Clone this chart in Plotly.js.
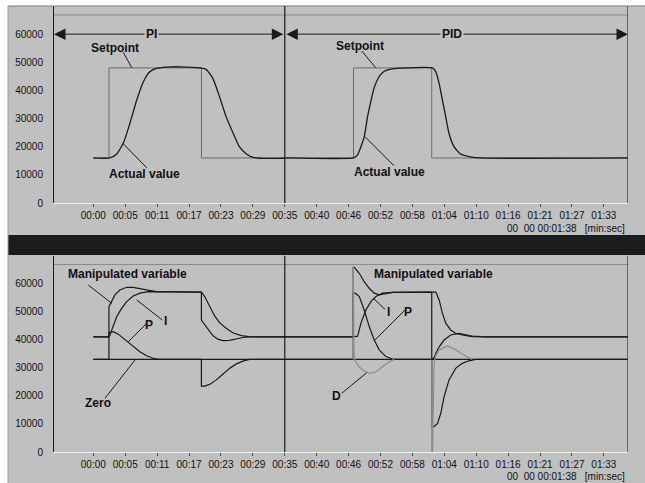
<!DOCTYPE html>
<html><head><meta charset="utf-8">
<script src="https://cdn.plot.ly/plotly-3.0.1.min.js"></script>
<style>html,body{margin:0;padding:0;background:#fff;}#chart{width:645px;height:483px;}</style>
</head><body><div id="chart"></div>
<script>
// ---- axis ticks ----
const tickSeconds = [0, 5.81, 11.63, 17.44, 23.25, 29.06, 34.88, 40.69, 46.5, 52.31, 58.13, 63.94, 69.75, 75.56, 81.38, 87.19, 93];
const tickLabels = ["00:00","00:05","00:11","00:17","00:23","00:29","00:35","00:40","00:46","00:52","00:58","01:04","01:10","01:16","01:21","01:27","01:33"];
const yTickValues = [0, 10000, 20000, 30000, 40000, 50000, 60000];
const yTickLabels = ["0","10000","20000","30000","40000","50000","60000"];

// ---- top chart: setpoint / actual value ----
const setpointTime  = [0, 2.85, 2.85, 19.7, 19.7, 47.4, 47.4, 61.65, 61.65, 97.4];
const setpointValue = [16000, 16000, 48000, 48000, 16000, 16000, 48000, 48000, 16000, 16000];
const actualTime  = [0, 3.0, 4.25, 5.45, 6.67, 7.9, 9.1, 10.3, 11.5, 13.3, 15.7, 19.4, 20.6, 21.8, 23.0, 24.2, 25.5, 26.6, 27.9, 29.1, 30.3, 34.5, 35.5, 47.4, 48.1, 48.75, 49.35, 49.95, 50.6, 51.2, 52.1, 53.0, 54.2, 56.0, 61.8, 62.4, 63.0, 63.6, 64.2, 64.8, 65.7, 66.9, 68.7, 70.5, 97.4];
const actualValue = [16000, 16000, 17400, 21200, 28300, 36500, 43000, 46600, 47800, 48300, 48400, 48000, 47400, 44200, 37700, 30600, 24700, 20000, 17400, 16200, 15900, 15900, 16000, 16000, 17000, 20000, 23500, 30600, 36500, 41200, 45000, 46800, 47600, 47900, 48000, 46600, 42400, 36500, 30600, 24700, 20000, 17400, 16400, 16000, 16000];

// ---- bottom chart: controller components ----
const zeroTime  = [0, 97.4];
const zeroValue = [33000, 33000];
const pTime  = [0, 2.85, 2.85, 3.63, 4.54, 5.45, 6.36, 7.27, 8.48, 9.7, 10.9, 12.1, 19.69, 19.69, 20.29, 21.2, 22.4, 23.6, 24.8, 26.05, 27.25, 28.46, 47.36, 47.36, 47.72, 48.45, 49.35, 50.26, 51.17, 52.08, 53.3, 54.5, 55.5, 61.65, 61.65, 62.07, 62.7, 63.3, 63.9, 64.8, 66.0, 67.2, 68.4, 69.65, 97.4];
const pValue = [33000, 33000, 42500, 42900, 42000, 40500, 39300, 37500, 35700, 34300, 33400, 33000, 33000, 23500, 23500, 24100, 25700, 27700, 29800, 31400, 32400, 33000, 33000, 56600, 56600, 55400, 50600, 44700, 39900, 36400, 34000, 33150, 33000, 33000, 9000, 9000, 10200, 13800, 19700, 25700, 29800, 31600, 32500, 33000, 33000];
const iTime  = [0, 2.85, 3.03, 3.63, 4.25, 5.16, 6.07, 7.27, 8.48, 9.99, 19.69, 20.29, 21.2, 22.1, 23.0, 24.2, 25.4, 26.96, 28.46, 30.0, 47.36, 48.15, 48.75, 49.66, 50.57, 51.48, 52.68, 54.5, 62.0, 62.4, 63.0, 63.6, 64.2, 65.1, 66.0, 67.2, 69.0, 71.5, 97.4];
const iValue = [41000, 41000, 41700, 44700, 48200, 51200, 53600, 55600, 56600, 57150, 57000, 55400, 51800, 48500, 46100, 44100, 42500, 41500, 41100, 41000, 41000, 41300, 45900, 50600, 53600, 55400, 56600, 56900, 57000, 57000, 54200, 49400, 45900, 43500, 42300, 41700, 41100, 41000, 41000];
const mvTime  = [0, 2.85, 2.85, 3.34, 3.94, 4.85, 6.07, 7.27, 8.48, 9.7, 11.52, 19.69, 19.69, 20.29, 20.9, 21.8, 22.7, 23.6, 24.8, 26.05, 27.25, 28.46, 47.36, 47.36, 47.54, 48.45, 49.35, 50.26, 51.17, 52.08, 53.3, 54.5, 61.65, 61.65, 62.07, 62.4, 63.0, 63.9, 65.1, 66.6, 69.0, 71.5, 97.4];
const mvValue = [41000, 41000, 51800, 53600, 56000, 57750, 58700, 58700, 58350, 57750, 57150, 57000, 47000, 45300, 43500, 41400, 40200, 39700, 39800, 40300, 40800, 41000, 41000, 65800, 65800, 63700, 60700, 58350, 56600, 56000, 56500, 56900, 57000, 33400, 33400, 35200, 37500, 39900, 41700, 42300, 41300, 41000, 41000];
const dTime  = [47.36, 47.36, 47.5, 47.72, 48.15, 49.05, 50.26, 51.48, 52.68, 53.9, 54.8, null, 61.65, 61.65, 61.8, 62.07, 62.4, 63.0, 64.5, 66.0, 67.8, 69.0];
const dValue = [33000, 66000, 34000, 32500, 31000, 29200, 28000, 28600, 30400, 32200, 33000, null, 33000, 0, 0, 31600, 34500, 36400, 37800, 36400, 34200, 33000];

const FONT = 'Liberation Sans, Arial, sans-serif';
const DARK = '#1a1a1a';
const PANEL = '#c0c0c0';
const X0 = -7.16, X1 = 97.4, DIV = 34.88, TOPLINE = 66800;

function line(x, y, xa, ya, color, width, smooth) {
  const ln = {color: color, width: width};
  if (smooth) { ln.shape = 'spline'; ln.smoothing = 0.5; }
  return {x: x, y: y, xaxis: xa, yaxis: ya, type: 'scatter', mode: 'lines',
    line: ln, connectgaps: false, hoverinfo: 'skip'};
}

const traces = [
  line(setpointTime, setpointValue, 'x', 'y', '#6a6a6a', 1),
  line(actualTime, actualValue, 'x', 'y', DARK, 1.3, true),
  line(zeroTime, zeroValue, 'x2', 'y2', DARK, 1.1),
  line(pTime, pValue, 'x2', 'y2', DARK, 1.2),
  line(iTime, iValue, 'x2', 'y2', DARK, 1.2),
  line(mvTime, mvValue, 'x2', 'y2', DARK, 1.2),
  line(dTime, dValue, 'x2', 'y2', '#8c8c8c', 1.2)
];

const xCommon = {range: [X0, X1], tickmode: 'array', tickvals: tickSeconds, ticktext: tickLabels,
  showgrid: false, zeroline: false, showline: true, linecolor: '#eeeeee', linewidth: 1,
  ticks: 'outside', ticklen: 3, tickcolor: '#505050', tickwidth: 1,
  tickfont: {family: FONT, size: 10, color: '#111'}, fixedrange: true};
const yCommon = {range: [0, 70000], tickmode: 'array', tickvals: yTickValues, ticktext: yTickLabels,
  showgrid: false, zeroline: false, showline: true, linecolor: DARK, linewidth: 1,
  ticks: '', ticklabelstandoff: 8, tickfont: {family: FONT, size: 10, color: '#111'}, fixedrange: true};

function seg(xr, yr, x0, y0, x1, y1, color, width) {
  return {type: 'line', xref: xr, yref: yr, x0: x0, y0: y0, x1: x1, y1: y1,
    line: {color: color, width: width}};
}

const shapes = [
  {type: 'rect', xref: 'paper', yref: 'paper', x0: -0.0801, x1: 1.04, y0: 0.4865, y1: 1.0, fillcolor: PANEL, line: {width: 0}, layer: 'below'},
  {type: 'rect', xref: 'paper', yref: 'paper', x0: -0.0801, x1: 1.04, y0: 0.4417, y1: 0.4865, fillcolor: '#1c1c1c', line: {width: 0}, layer: 'below'},
  {type: 'rect', xref: 'paper', yref: 'paper', x0: -0.0801, x1: 1.04, y0: -0.08, y1: 0.4417, fillcolor: PANEL, line: {width: 0}, layer: 'below'},
  seg('paper', 'paper', -0.0801, 1.0, 1.04, 1.0, '#7a7a7a', 1),
  {type: 'line', xref: 'paper', yref: 'paper', x0: -0.0801, x1: -0.0801, y0: -0.08, y1: 1.0, line: {color: '#9a9a9a', width: 1}},
  seg('x', 'y', X0, TOPLINE, X1, TOPLINE, '#8a8a8a', 1),
  seg('x2', 'y2', X0, TOPLINE, X1, TOPLINE, '#8a8a8a', 1),
  seg('x', 'y', X1, 0, X1, 70000, '#2a2a2a', 1.2),
  seg('x2', 'y2', X1, 0, X1, 70000, '#2a2a2a', 1.2),
  seg('x', 'y', DIV, 0, DIV, 70000, DARK, 1.2),
  seg('x2', 'y2', DIV, 0, DIV, 70000, DARK, 1.2),
  seg('x', 'y', 5.46, 53550, 7.0, 48080, DARK, 1),
  seg('x', 'y', 9.73, 12540, 5.36, 21210, DARK, 1),
  seg('x', 'y', 48.89, 54010, 51.44, 48080, DARK, 1),
  seg('x', 'y', 54.77, 13250, 49.49, 23560, DARK, 1),
  seg('x2', 'y2', -0.91, 59520, 3.35, 52990, DARK, 1),
  seg('x2', 'y2', 12.57, 47040, 7.91, 54170, DARK, 1),
  seg('x2', 'y2', 9.73, 45870, 6.38, 39310, DARK, 1),
  seg('x2', 'y2', 2.13, 19140, 7.6, 32800, DARK, 1),
  seg('x2', 'y2', 53.13, 50860, 51.0, 54780, DARK, 1),
  seg('x2', 'y2', 56.78, 50610, 51.31, 39910, DARK, 1),
  seg('x2', 'y2', 45.25, 20920, 49.8, 28260, DARK, 1)
];

function label(xr, yr, x, y, text, size) {
  return {xref: xr, yref: yr, x: x, y: y, text: '<b>' + text + '</b>', showarrow: false,
    font: {family: FONT, size: size || 12, color: '#111'}, xanchor: 'center', yanchor: 'middle'};
}
function arrow(x0, x1) {
  return {xref: 'x', yref: 'y', axref: 'x', ayref: 'y', x: x0, y: 60000, ax: x1, ay: 60000, text: '',
    showarrow: true, arrowhead: 2, startarrowhead: 2, arrowside: 'end+start', arrowsize: 2.3,
    startarrowsize: 2.3, arrowwidth: 1, arrowcolor: DARK, standoff: 0, startstandoff: 0};
}

const annotations = [
  arrow(X0, DIV), arrow(X1, DIV),
  Object.assign(label('x', 'y', 10.64, 60000, 'PI'), {bgcolor: PANEL, borderpad: 1}),
  Object.assign(label('x', 'y', 65.28, 60000, 'PID'), {bgcolor: PANEL, borderpad: 1}),
  label('x', 'y', 3.95, 55180, 'Setpoint'),
  label('x', 'y', 9.24, 10200, 'Actual value'),
  label('x', 'y', 48.63, 55890, 'Setpoint'),
  label('x', 'y', 54.04, 10910, 'Actual value'),
  label('x2', 'y2', 6.23, 63330, 'Manipulated variable'),
  label('x2', 'y2', 13.06, 46690, 'I'),
  label('x2', 'y2', 10.2, 45260, 'P'),
  label('x2', 'y2', 0.91, 17360, 'Zero'),
  label('x2', 'y2', 61.88, 63330, 'Manipulated variable'),
  label('x2', 'y2', 53.73, 50000, 'I'),
  label('x2', 'y2', 57.38, 50000, 'P'),
  label('x2', 'y2', 44.34, 19960, 'D'),
  {xref: 'paper', yref: 'paper', x: 0.999, y: 0.502, xanchor: 'right', yanchor: 'middle', showarrow: false,
    text: '00\u00a0\u00a000\u00a000:01:38\u00a0\u00a0\u00a0[min:sec]', font: {family: FONT, size: 10, color: '#111'}},
  {xref: 'paper', yref: 'paper', x: 0.999, y: -0.056, xanchor: 'right', yanchor: 'middle', showarrow: false,
    text: '00\u00a0\u00a000\u00a000:01:38\u00a0\u00a0\u00a0[min:sec]', font: {family: FONT, size: 10, color: '#111'}}
];

const layout = {
  width: 645, height: 483,
  margin: {l: 54, r: 17, t: 6, b: 31},
  paper_bgcolor: '#ffffff', plot_bgcolor: 'rgba(0,0,0,0)',
  showlegend: false,
  xaxis: Object.assign({}, xCommon, {domain: [0, 1], anchor: 'y'}),
  yaxis: Object.assign({}, yCommon, {domain: [0.5583, 1], anchor: 'x'}),
  xaxis2: Object.assign({}, xCommon, {domain: [0, 1], anchor: 'y2'}),
  yaxis2: Object.assign({}, yCommon, {domain: [0, 0.4404], anchor: 'x2'}),
  shapes: shapes,
  annotations: annotations
};

Plotly.newPlot('chart', traces, layout, {staticPlot: true, displayModeBar: false});
</script>
</body></html>
